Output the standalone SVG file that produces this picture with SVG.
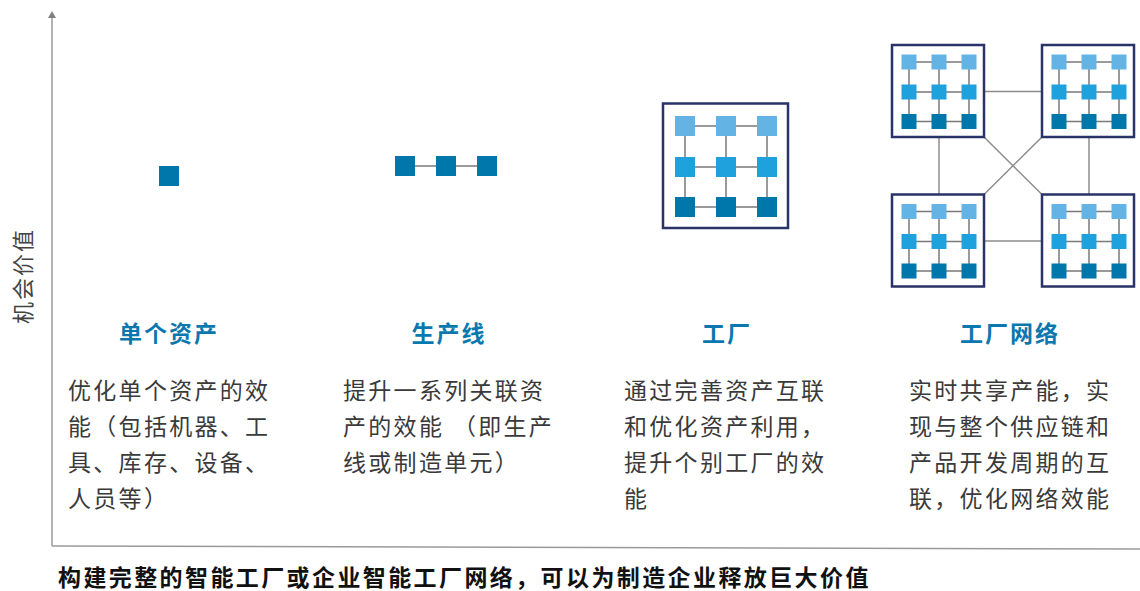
<svg xmlns="http://www.w3.org/2000/svg" xmlns:xlink="http://www.w3.org/1999/xlink" width="1140" height="591" viewBox="0 0 1140 591">
<style>
.ax{stroke:#9a9a9a;stroke-width:1.5;fill:none}
.ln{stroke:#7a7a7a;stroke-width:1.5;fill:none}
.cn{stroke:#8c8c8c;stroke-width:1.5;fill:none}
.box{fill:#fff;stroke:#2a3367;stroke-width:2.5}
.l{fill:#63b4e5}
.m{fill:#1ea1dc}
.d{fill:#0077aa}
.title{font-family:"Liberation Sans","Noto Sans CJK SC",sans-serif;font-weight:bold;font-size:23px;fill:#0a78ae;letter-spacing:2px;text-anchor:middle}
.body{font-family:"Liberation Sans","Noto Sans CJK SC",sans-serif;font-size:23px;fill:#3a3a3a;letter-spacing:2.3px}
.yl{font-family:"Liberation Sans","Noto Sans CJK SC",sans-serif;font-size:22px;fill:#444;letter-spacing:2px;text-anchor:middle}
.cap{font-family:"Liberation Sans","Noto Sans CJK SC",sans-serif;font-weight:bold;font-size:23px;fill:#111;letter-spacing:2.4px}
</style>
<defs>
<g id="net">
<rect class="box" x="0" y="0" width="92" height="92"/>
<path class="ln" d="M17,17H77M17,47H77M17,76.5H77M17,17V76.5M47,17V76.5M77,17V76.5"/>
<rect class="l" x="9.5" y="9.5" width="15" height="15"/><rect class="l" x="39.5" y="9.5" width="15" height="15"/><rect class="l" x="69.5" y="9.5" width="15" height="15"/>
<rect class="m" x="9.5" y="39.5" width="15" height="15"/><rect class="m" x="39.5" y="39.5" width="15" height="15"/><rect class="m" x="69.5" y="39.5" width="15" height="15"/>
<rect class="d" x="9.5" y="69" width="15" height="15"/><rect class="d" x="39.5" y="69" width="15" height="15"/><rect class="d" x="69.5" y="69" width="15" height="15"/>
</g>
</defs>

<g id="axes">
<line class="ax" x1="52" y1="546" x2="52" y2="17"/>
<polygon points="52,11 48,18 56,18" fill="#808080"/>
<line class="ax" x1="52" y1="546" x2="1140" y2="549"/>
<text class="yl" transform="translate(31,276) rotate(-90)">机会价值</text>
</g>

<g id="connectors">
<line class="ln" x1="415" y1="166" x2="436" y2="166"/>
<line class="ln" x1="456" y1="166" x2="477" y2="166"/>
<line class="cn" x1="984" y1="91.5" x2="1042" y2="91.5"/>
<line class="cn" x1="984" y1="241" x2="1042" y2="241"/>
<line class="cn" x1="939" y1="137" x2="939" y2="194.5"/>
<line class="cn" x1="1089" y1="137" x2="1089" y2="194.5"/>
<line class="cn" x1="984" y1="137" x2="1042" y2="194.5"/>
<line class="cn" x1="1042" y1="137" x2="984" y2="194.5"/>
</g>

<g id="node-single-asset">
<rect class="d" x="159" y="166" width="20" height="20"/>
<text class="title" x="169" y="342">单个资产</text>
<text class="body"><tspan x="68" y="399">优化单个资产的效</tspan><tspan x="68" y="435">能（包括机器、工</tspan><tspan x="68" y="471">具、库存、设备、</tspan><tspan x="68" y="507">人员等）</tspan></text>
</g>

<g id="node-production-line">
<rect class="d" x="395" y="156" width="20" height="20"/>
<rect class="d" x="436" y="156" width="20" height="20"/>
<rect class="d" x="477" y="156" width="20" height="20"/>
<text class="title" x="449" y="342">生产线</text>
<text class="body"><tspan x="343" y="399">提升一系列关联资</tspan><tspan x="343" y="435">产的效能 （即生产</tspan><tspan x="343" y="471">线或制造单元）</tspan></text>
</g>

<g id="node-factory">
<rect class="box" x="663" y="103.5" width="125" height="124.5"/>
<path class="ln" d="M685,126H767M685,167H767M685,207H767M685,126V207M726,126V207M767,126V207"/>
<rect class="l" x="675" y="116" width="20" height="20"/><rect class="l" x="716" y="116" width="20" height="20"/><rect class="l" x="757" y="116" width="20" height="20"/>
<rect class="m" x="675" y="157" width="20" height="20"/><rect class="m" x="716" y="157" width="20" height="20"/><rect class="m" x="757" y="157" width="20" height="20"/>
<rect class="d" x="675" y="197" width="20" height="20"/><rect class="d" x="716" y="197" width="20" height="20"/><rect class="d" x="757" y="197" width="20" height="20"/>
<text class="title" x="727" y="342">工厂</text>
<text class="body"><tspan x="624" y="399">通过完善资产互联</tspan><tspan x="624" y="435">和优化资产利用，</tspan><tspan x="624" y="471">提升个别工厂的效</tspan><tspan x="624" y="507">能</tspan></text>
</g>

<g id="node-factory-network">
<g id="net-tl"><use xlink:href="#net" href="#net" x="892" y="45"/></g>
<g id="net-tr"><use xlink:href="#net" href="#net" x="1042" y="45"/></g>
<g id="net-bl"><use xlink:href="#net" href="#net" x="892" y="194.5"/></g>
<g id="net-br"><use xlink:href="#net" href="#net" x="1042" y="194.5"/></g>
<text class="title" x="1010" y="342">工厂网络</text>
<text class="body"><tspan x="909" y="399">实时共享产能，实</tspan><tspan x="909" y="435">现与整个供应链和</tspan><tspan x="909" y="471">产品开发周期的互</tspan><tspan x="909" y="507">联，优化网络效能</tspan></text>
</g>

<g id="caption">
<text class="cap" x="58" y="586">构建完整的智能工厂或企业智能工厂网络，可以为制造企业释放巨大价值</text>
</g>
</svg>
